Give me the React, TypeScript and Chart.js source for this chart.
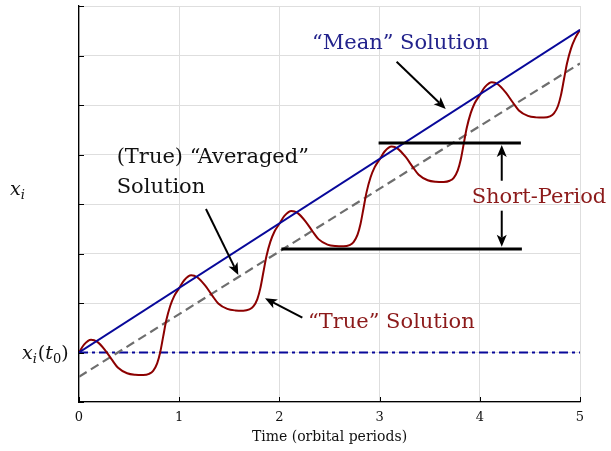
import React, { useEffect, useRef } from 'react';
import { Chart, registerables } from 'chart.js';

Chart.register(...registerables);

// ---- data (time in orbital periods, x_i in arbitrary units) ----
const timeTickValues = [0, 1, 2, 3, 4, 5];
const xiTickValues = [-1, 0, 1, 2, 3, 4, 5, 6, 7];

const trueTime = [
  0, 0.05, 0.12, 0.18, 0.26, 0.33, 0.39, 0.48, 0.56, 0.64, 0.70, 0.74, 0.78, 0.81, 0.84, 0.87, 0.91, 0.95,
  1.0, 1.05, 1.12, 1.18, 1.26, 1.33, 1.39, 1.48, 1.56, 1.64, 1.70, 1.74, 1.78, 1.81, 1.84, 1.87, 1.91, 1.95,
  2.0, 2.05, 2.12, 2.18, 2.26, 2.33, 2.39, 2.48, 2.56, 2.64, 2.70, 2.74, 2.78, 2.81, 2.84, 2.87, 2.91, 2.95,
  3.0, 3.05, 3.12, 3.18, 3.26, 3.33, 3.39, 3.48, 3.56, 3.64, 3.70, 3.74, 3.78, 3.81, 3.84, 3.87, 3.91, 3.95,
  4.0, 4.05, 4.12, 4.18, 4.26, 4.33, 4.39, 4.48, 4.56, 4.64, 4.70, 4.74, 4.78, 4.81, 4.84, 4.87, 4.91, 4.95,
  5.0,
];
const trueValue = [
  0, 0.16, 0.26, 0.22, 0.05, -0.15, -0.31, -0.42, -0.45, -0.455, -0.43, -0.37, -0.22, 0.0, 0.32, 0.64, 0.94, 1.14,
  1.30, 1.46, 1.56, 1.52, 1.35, 1.15, 0.99, 0.88, 0.85, 0.845, 0.87, 0.93, 1.08, 1.30, 1.62, 1.94, 2.24, 2.44,
  2.60, 2.76, 2.86, 2.82, 2.65, 2.45, 2.29, 2.18, 2.15, 2.145, 2.17, 2.23, 2.38, 2.60, 2.92, 3.24, 3.54, 3.74,
  3.90, 4.06, 4.16, 4.12, 3.95, 3.75, 3.59, 3.48, 3.45, 3.445, 3.47, 3.53, 3.68, 3.90, 4.22, 4.54, 4.84, 5.04,
  5.20, 5.36, 5.46, 5.42, 5.25, 5.05, 4.89, 4.78, 4.75, 4.745, 4.77, 4.83, 4.98, 5.20, 5.52, 5.84, 6.14, 6.34,
  6.52,
];
const meanTime = [0, 5];
const meanValue = [0, 6.52];
const avgTime = [0, 5];
const avgValue = [-0.49, 5.84];
const initTime = [0, 5];
const initValue = [0, 0];
const spTopTime = [2.99, 4.41];
const spTopValue = [4.23, 4.23];
const spBotTime = [2.02, 4.42];
const spBotValue = [2.09, 2.09];

// annotations in data units: [t0, x0, t1, x1] (arrow points from 0 to 1)
const arrowCoords = [
  [3.17, 5.875, 3.66, 4.92],
  [1.267, 2.9, 1.59, 1.566],
  [2.229, 0.703, 1.856, 1.095],
  [4.219, 3.47, 4.219, 4.19],
  [4.219, 2.865, 4.219, 2.137],
];
const noteTexts = ['\u201CMean\u201D Solution', '(True) \u201CAveraged\u201D', 'Solution', 'Short-Period', '\u201CTrue\u201D Solution'];
const noteTime = [2.325, 0.376, 0.376, 3.919, 2.285];
const noteValue = [6.131, 3.828, 3.222, 3.026, 0.501];
const noteColor = ['#23238c', '#111111', '#111111', '#8c1a1a', '#8c1a1a'];

const BLUE = '#08089a';
const RED = '#8c0000';
const SERIF = '"DejaVu Serif", "Liberation Serif", serif';

const zip = (xs: number[], ys: number[]) => xs.map((v, i) => ({ x: v, y: ys[i] }));

function drawArrow(ctx: CanvasRenderingContext2D, x1: number, y1: number, x2: number, y2: number) {
  const ang = Math.atan2(y2 - y1, x2 - x1);
  const L = 12, W = 5;
  const c = Math.cos(ang), s = Math.sin(ang);
  const bx = x2 - L * c, by = y2 - L * s;
  ctx.beginPath();
  ctx.moveTo(x1, y1);
  ctx.lineTo(bx + 3 * c, by + 3 * s);
  ctx.stroke();
  ctx.beginPath();
  ctx.moveTo(x2, y2);
  ctx.lineTo(bx - W * s, by + W * c);
  ctx.lineTo(bx + 3 * c, by + 3 * s);
  ctx.lineTo(bx + W * s, by - W * c);
  ctx.closePath();
  ctx.fill();
}

const annotPlugin = {
  id: 'annot',
  afterDraw(chart: any) {
    const { ctx, chartArea } = chart;
    const xs = chart.scales.x;
    const ys = chart.scales.y;
    ctx.save();
    // inward tick marks
    ctx.strokeStyle = '#000';
    ctx.lineWidth = 1;
    for (const v of xiTickValues) {
      const py = Math.round(ys.getPixelForValue(v)) + 0.5;
      ctx.beginPath();
      ctx.moveTo(chartArea.left, py);
      ctx.lineTo(chartArea.left + 5, py);
      ctx.stroke();
    }
    for (const v of timeTickValues) {
      const px = Math.round(xs.getPixelForValue(v)) + 0.5;
      ctx.beginPath();
      ctx.moveTo(px, chartArea.bottom);
      ctx.lineTo(px, chartArea.bottom - 5);
      ctx.stroke();
    }
    // arrows
    ctx.strokeStyle = '#000';
    ctx.fillStyle = '#000';
    ctx.lineWidth = 2;
    for (const a of arrowCoords) {
      drawArrow(ctx, xs.getPixelForValue(a[0]), ys.getPixelForValue(a[1]), xs.getPixelForValue(a[2]), ys.getPixelForValue(a[3]));
    }
    // notes
    ctx.textBaseline = 'alphabetic';
    ctx.textAlign = 'left';
    ctx.font = `21px ${SERIF}`;
    noteTexts.forEach((t, i) => {
      ctx.fillStyle = noteColor[i];
      ctx.fillText(t, xs.getPixelForValue(noteTime[i]), ys.getPixelForValue(noteValue[i]));
    });
    // y-axis labels: x_i and x_i(t_0)
    ctx.fillStyle = '#111';
    const big = `italic 19px ${SERIF}`;
    const bigUp = `19px ${SERIF}`;
    const sub = `italic 13px ${SERIF}`;
    const subUp = `13px ${SERIF}`;
    const put = (txt: string, font: string, x: number, y: number) => {
      ctx.font = font;
      ctx.fillText(txt, x, y);
      return x + ctx.measureText(txt).width;
    };
    let cx = 10;
    const yb = 195;
    cx = put('x', big, cx, yb);
    put('i', sub, cx, yb + 4);
    const y0 = ys.getPixelForValue(0) + 6;
    cx = 22;
    cx = put('x', big, cx, y0);
    cx = put('i', sub, cx, y0 + 4);
    cx = put('(', bigUp, cx + 1, y0);
    cx = put('t', big, cx, y0);
    cx = put('0', subUp, cx, y0 + 4);
    put(')', bigUp, cx, y0);
    ctx.restore();
  },
};

export default function App() {
  const ref = useRef<HTMLCanvasElement | null>(null);
  useEffect(() => {
    document.body.style.margin = '0';
    const canvas = ref.current;
    if (!canvas) return;
    const chart = new Chart(canvas, {
      type: 'line',
      data: {
        datasets: [
          { data: zip(spTopTime, spTopValue), borderColor: '#000', borderWidth: 3, pointRadius: 0, tension: 0 },
          { data: zip(spBotTime, spBotValue), borderColor: '#000', borderWidth: 3, pointRadius: 0, tension: 0 },
          { data: zip(meanTime, meanValue), borderColor: BLUE, borderWidth: 2, pointRadius: 0, tension: 0 },
          { data: zip(trueTime, trueValue), borderColor: RED, borderWidth: 2, pointRadius: 0, cubicInterpolationMode: 'monotone' },
          { data: zip(avgTime, avgValue), borderColor: '#6e6e6e', borderWidth: 2.2, borderDash: [9, 5], pointRadius: 0, tension: 0 },
          { data: zip(initTime, initValue), borderColor: BLUE, borderWidth: 2.2, borderDash: [9, 4, 3, 4], pointRadius: 0, tension: 0 },
        ],
      },
      options: {
        responsive: false,
        animation: false,
        events: [],
        layout: { padding: { top: 6, right: 31, left: 0, bottom: 0 } },
        plugins: { legend: { display: false }, tooltip: { enabled: false }, title: { display: false } },
        scales: {
          x: {
            type: 'linear',
            min: 0,
            max: 5,
            ticks: { stepSize: 1, color: '#111', font: { family: SERIF, size: 13 }, padding: 8, maxRotation: 0 },
            grid: { color: '#dedede', lineWidth: 1, drawTicks: false },
            border: { color: '#000', width: 1.3 },
            title: { display: true, text: 'Time (orbital periods)', color: '#111', font: { family: SERIF, size: 14 }, padding: { top: 0, bottom: 5 } },
            afterFit: (s: any) => { s.height = 49; },
          },
          y: {
            type: 'linear',
            min: -1,
            max: 7,
            ticks: { stepSize: 1, display: false },
            grid: { color: '#dedede', lineWidth: 1, drawTicks: false },
            border: { color: '#000', width: 1.3 },
            afterFit: (s: any) => { s.width = 79; },
          },
        },
      } as any,
      plugins: [annotPlugin],
    });
    return () => chart.destroy();
  }, []);
  return (
    <div style={{ width: 611, height: 451 }}>
      <canvas ref={ref} width={611} height={451} />
    </div>
  );
}
